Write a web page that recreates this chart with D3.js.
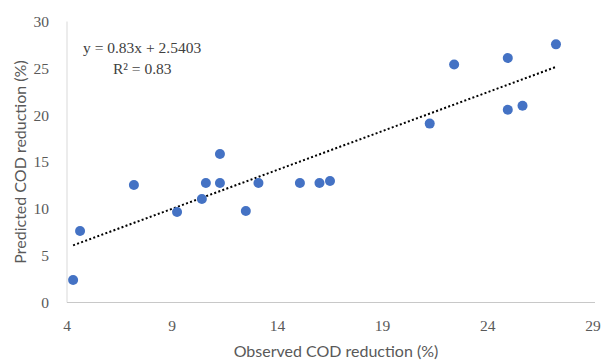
<!DOCTYPE html>
<html><head><meta charset="utf-8">
<script src="https://cdn.jsdelivr.net/npm/d3@7"></script>
<style>body{margin:0;background:#fff}svg{display:block}</style>
</head><body><div id="chart"></div>
<script>
const observed = [4.29, 4.62, 7.18, 9.23, 10.41, 10.6, 11.27, 11.27, 12.5, 13.1, 15.07, 16.0, 16.5, 21.24, 22.4, 24.95, 24.95, 25.65, 27.24];
const predicted = [2.4, 7.63, 12.54, 9.66, 11.05, 12.75, 15.85, 12.75, 9.77, 12.75, 12.75, 12.75, 12.97, 19.1, 25.4, 26.1, 20.58, 21.0, 27.56];
const xTicks = [4, 9, 14, 19, 24, 29];
const yTicks = [0, 5, 10, 15, 20, 25, 30];
const slope = 0.83, intercept = 2.5403;
const eqLabel = "y = 0.83x + 2.5403";
const r2Label = "R² = 0.83";
const xTitle = "Observed COD reduction (%)";
const yTitle = "Predicted COD reduction (%)";

const W = 601, H = 360;
const svg = d3.select("#chart").append("svg").attr("width", W).attr("height", H);
const x = d3.scaleLinear().domain([4, 29]).range([67, 593]);
const y = d3.scaleLinear().domain([0, 30]).range([302.5, 21.5]);
const serif = "'Liberation Serif', 'DejaVu Serif', serif";
const sans = "Lato, 'Open Sans', sans-serif";

// axes lines
svg.append("line").attr("x1", x(4)).attr("x2", x(4)).attr("y1", y(30)).attr("y2", y(0))
  .attr("stroke", "#d9d9d9").attr("stroke-width", 1);
svg.append("line").attr("x1", x(4)).attr("x2", x(29) + 2).attr("y1", y(0)).attr("y2", y(0))
  .attr("stroke", "#c8c8c8").attr("stroke-width", 1);

// tick labels
svg.append("g").selectAll("text").data(yTicks).join("text")
  .attr("x", 49).attr("y", d => y(d)).attr("dy", "0.35em")
  .attr("text-anchor", "end").attr("font-family", serif).attr("font-size", 15.5)
  .attr("fill", "#595959").text(d => d);
svg.append("g").selectAll("text").data(xTicks).join("text")
  .attr("x", d => x(d)).attr("y", 326).attr("dy", "0.35em")
  .attr("text-anchor", "middle").attr("font-family", serif).attr("font-size", 15.5)
  .attr("fill", "#595959").text(d => d);

// titles
svg.append("text").attr("x", 336).attr("y", 351).attr("dy", "0.35em")
  .attr("text-anchor", "middle").attr("font-family", sans).attr("font-size", 16)
  .attr("fill", "#595959").text(xTitle);
svg.append("text").attr("transform", "translate(20,162) rotate(-90)").attr("dy", "0.35em")
  .attr("text-anchor", "middle").attr("font-family", sans).attr("font-size", 16)
  .attr("fill", "#595959").text(yTitle);

// trendline
const xmin = d3.min(observed), xmax = d3.max(observed);
svg.append("line")
  .attr("x1", x(xmin)).attr("y1", y(slope * xmin + intercept))
  .attr("x2", x(xmax)).attr("y2", y(slope * xmax + intercept))
  .attr("stroke", "#000").attr("stroke-width", 2).attr("stroke-dasharray", "2,2.3");

// points
svg.append("g").selectAll("circle").data(observed.map((v, i) => [v, predicted[i]])).join("circle")
  .attr("cx", d => x(d[0])).attr("cy", d => y(d[1])).attr("r", 5)
  .attr("fill", "#4472C4");

// equation
svg.append("text").attr("x", 83).attr("y", 48).attr("dy", "0.35em")
  .attr("font-family", serif).attr("font-size", 15.5).attr("fill", "#404040").text(eqLabel);
svg.append("text").attr("x", 113).attr("y", 69).attr("dy", "0.35em")
  .attr("font-family", serif).attr("font-size", 15.5).attr("fill", "#404040").text(r2Label);
</script></body></html>
